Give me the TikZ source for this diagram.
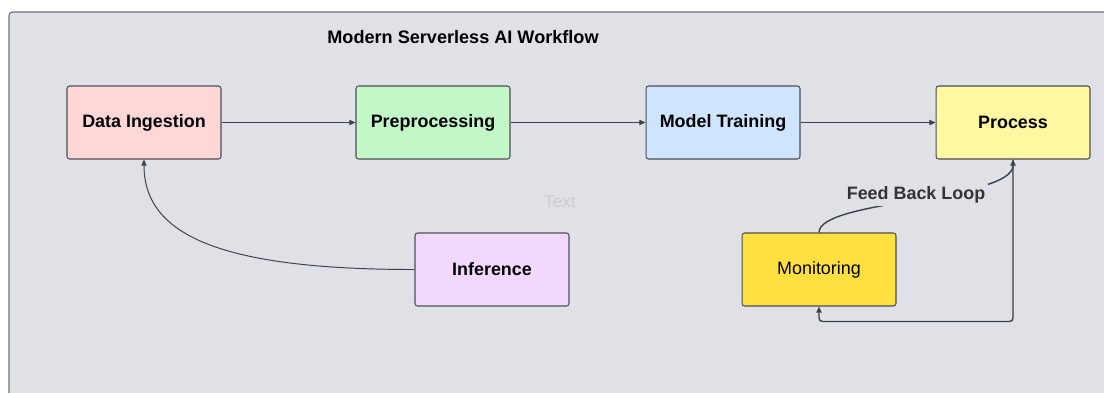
\documentclass[tikz,border=0pt]{standalone}
\usepackage{fontspec}
\setmainfont{Liberation Sans}
\usetikzlibrary{arrows.meta}
\definecolor{bg}{HTML}{DFE1E6}
\definecolor{framec}{HTML}{707274}
\definecolor{boxc}{HTML}{4A4E55}
\definecolor{linec}{HTML}{3A414A}
\definecolor{cpink}{HTML}{FFD7D7}
\definecolor{cgreen}{HTML}{C3F7C8}
\definecolor{cblue}{HTML}{CFE4FF}
\definecolor{cyellow}{HTML}{FFF7A1}
\definecolor{cpurple}{HTML}{F2D8FC}
\definecolor{cgold}{HTML}{FFE03F}
\definecolor{faint}{HTML}{C8CCD3}
\definecolor{lblc}{HTML}{333333}
\tikzset{
  stepbox/.style={rectangle, draw=boxc, line width=0.6pt, rounded corners=1.5pt,
    minimum width=3.08cm, minimum height=1.46cm, inner sep=0pt,
    font=\fontsize{10.2}{12}\selectfont\bfseries},
  conn/.style={draw=linec, line width=0.55pt, -{Triangle[length=3.5pt,width=3pt]}},
}
\begin{document}
\begin{tikzpicture}[x=0.02cm,y=-0.02cm]
\useasboundingbox (0,0) rectangle (1104,392);
\fill[white] (0,0) rectangle (1104,392);
\begin{scope}
\clip (0,0) rectangle (1104,392);
\draw[framec, fill=bg, line width=0.6pt, rounded corners=2pt] (9,12) rectangle (1115,405);
\end{scope}

\node[font=\fontsize{10.3}{12}\selectfont\bfseries] (title) at (463,37) {Modern Serverless AI Workflow};
\node[font=\fontsize{9.8}{12}\selectfont, text=faint] (txt) at (560,202) {Text};

\node[stepbox, fill=cpink] (DI) at (144,122.5) {Data Ingestion};
\node[stepbox, fill=cgreen] (PP) at (433,122.5) {Preprocessing};
\node[stepbox, fill=cblue] (MT) at (723,122.5) {Model Training};
\node[stepbox, fill=cyellow] (PR) at (1013,122.5) {Process};
\node[stepbox, fill=cpurple] (INF) at (492,269.5) {Inference};
\node[stepbox, fill=cgold, font=\fontsize{10.2}{12}\selectfont] (MON) at (819,269.5) {Monitoring};

\draw[conn] (DI) -- (PP);
\draw[conn] (PP) -- (MT);
\draw[conn] (MT) -- (PR);
\draw[conn] (INF.west) .. controls (220,269.5) and (144,235) .. (DI.south);
\draw[conn, line width=0.8pt, rounded corners=2pt] (PR.south) -- ++(0,162) -| (MON.south);
\draw[conn, line width=0.8pt] (MON.north) .. controls +(0,-33) and +(0,41) .. node[pos=0.5, yshift=0.08cm, fill=bg, inner sep=1.5pt, text=lblc, font=\fontsize{10.2}{12}\selectfont\bfseries] (fbl) {Feed Back Loop} (PR.south);
\end{tikzpicture}
\end{document}
